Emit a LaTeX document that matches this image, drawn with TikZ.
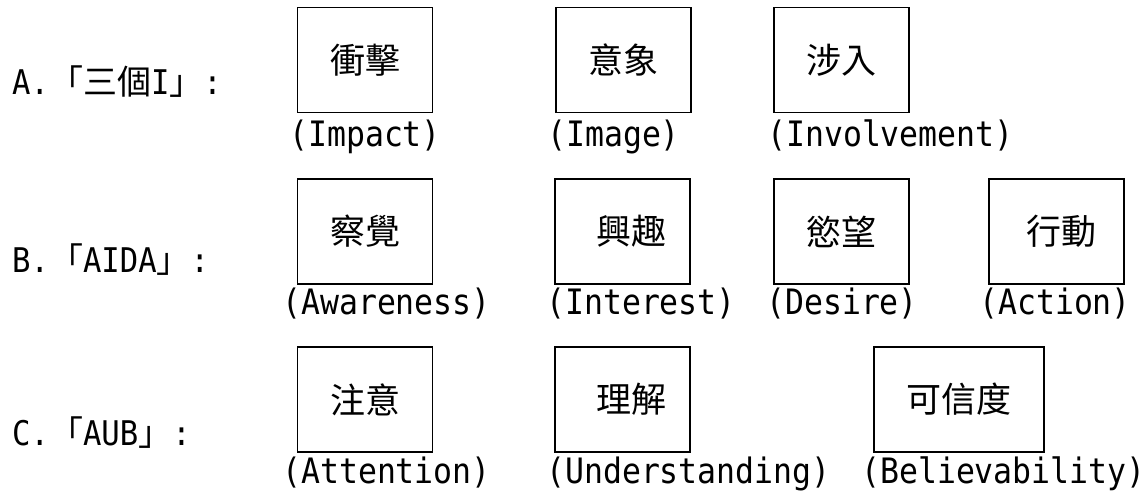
\documentclass[tikz,border=0pt]{standalone}
\usepackage{fontspec}
\newfontfamily\cjk{Noto Sans CJK TC}
\newfontfamily\lat{DejaVu Sans Mono}[FakeStretch=0.9]
\begin{document}
\begin{tikzpicture}[x=1pt,y=-1pt,
  box/.style={draw, line width=1.3pt, minimum width=135pt, minimum height=105pt,
    inner sep=0pt, font=\cjk\fontsize{35}{40}\selectfont},
  sub/.style={anchor=base west, inner sep=0pt, font=\lat\fontsize{35}{40}\selectfont},
  rowlab/.style={anchor=base west, inner sep=0pt, font=\lat\fontsize{34}{40}\selectfont}]
\useasboundingbox (0,0) rectangle (1146,494);
% row labels
\node[rowlab] (la) at (12,95) {A.{\cjk 「三個}I{\cjk 」}:};
\node[rowlab] (lb) at (12,273) {B.{\cjk 「}AIDA{\cjk 」}:};
\node[rowlab] (lc) at (12,445) {C.{\cjk 「}AUB{\cjk 」}:};
% row A
\node[box] (a1) at (365,60) {衝擊};
\node[box] (a2) at (623.5,60) {意象};
\node[box] (a3) at (841.5,60) {涉入};
\node[sub] (sa1) at (289,147) {(Impact)};
\node[sub] (sa2) at (547,147) {(Image)};
\node[sub] (sa3) at (767,147) {(Involvement)};
% row B
\node[box] (b1) at (365,231.5) {察覺};
\node[box] (b2) at (622.5,231.5) {\hspace*{18pt}興趣};
\node[box] (b3) at (841.5,231.5) {慾望};
\node[box] (b4) at (1056.5,231.5) {\hspace*{10pt}行動};
\node[sub] (sb1) at (282,315) {(Awareness)};
\node[sub] (sb2) at (546,315) {(Interest)};
\node[sub] (sb3) at (766,315) {(Desire)};
\node[sub] (sb4) at (979,315) {(Action)};
% row C
\node[box] (c1) at (365,399.5) {注意};
\node[box] (c2) at (622.5,399.5) {\hspace*{18pt}理解};
\node[box, minimum width=170pt] (c3) at (959,399.5) {可信度};
\node[sub] (sc1) at (282,483) {(Attention)};
\node[sub] (sc2) at (546,483) {(Understanding)};
\node[sub] (sc3) at (861,483) {(Believability)};
\end{tikzpicture}
\end{document}
